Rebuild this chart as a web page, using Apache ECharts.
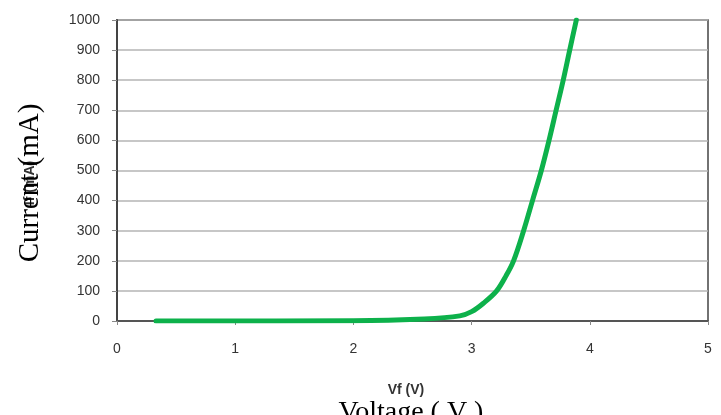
<!DOCTYPE html>
<html><head><meta charset="utf-8">
<script src="https://cdn.jsdelivr.net/npm/echarts@6/dist/echarts.min.js"></script>
<style>html,body{margin:0;padding:0;background:#fff}#c{width:721px;height:415px}</style>
</head><body><div id="c"></div>
<script>
var voltage = [0.33, 2.0, 2.6, 2.9, 3.0, 3.1, 3.212, 3.291, 3.355, 3.44, 3.515, 3.59, 3.655, 3.715, 3.775, 3.83, 3.886];
var current = [0, 1, 7, 17, 31, 59, 100, 150, 200, 300, 400, 500, 600, 700, 800, 900, 1000];
var xTicks = [0, 1, 2, 3, 4, 5];
var yTicks = [0, 100, 200, 300, 400, 500, 600, 700, 800, 900, 1000];
var xNameInner = 'Vf (V)', xNameOuter = 'Voltage ( V )';
var yNameInner = 'If (mA)', yNameOuter = 'Current (mA)';

var chart = echarts.init(document.getElementById('c'), null, {renderer: 'canvas'});
var pts = voltage.map(function (v, i) { return [v, current[i]]; });
chart.setOption({
  animation: false,
  backgroundColor: '#fff',
  grid: {left: 117, right: 13, top: 20, bottom: 94, show: true, borderColor: '#444', borderWidth: 1.5, backgroundColor: 'transparent'},
  xAxis: {
    type: 'value', min: xTicks[0], max: xTicks[xTicks.length - 1], interval: 1,
    axisLine: {show: true, lineStyle: {color: '#555', width: 2}},
    axisTick: {show: true, length: 4, lineStyle: {color: '#888'}},
    axisLabel: {margin: 21, color: '#333', fontFamily: 'Liberation Sans, Arial', fontSize: 14, formatter: function (v) { return String(v); }},
    splitLine: {show: false}
  },
  yAxis: {
    type: 'value', min: yTicks[0], max: yTicks[yTicks.length - 1], interval: 100,
    axisLine: {show: true, lineStyle: {color: '#444', width: 2}},
    axisTick: {show: true, length: 5, lineStyle: {color: '#888'}},
    axisLabel: {margin: 17, color: '#333', fontFamily: 'Liberation Sans, Arial', fontSize: 14, formatter: function (v) { return String(v); }},
    splitLine: {show: true, lineStyle: {color: '#b4b4b4', width: 1.5}}
  },
  series: [{
    type: 'line', data: pts, smooth: 0.35, showSymbol: false,
    lineStyle: {color: '#0db14b', width: 5, cap: 'round', join: 'round'}, z: 3
  }],
  graphic: [
    {type: 'text', x: 406, y: 390, style: {text: xNameInner, font: 'bold 14px "Liberation Sans", Arial', fill: '#333', textAlign: 'center', textVerticalAlign: 'middle'}},
    {type: 'text', x: 411, y: 413, style: {text: xNameOuter, font: '28px "Liberation Serif", "Times New Roman"', fill: '#000', textAlign: 'center', textVerticalAlign: 'middle'}},
    {type: 'text', x: 30, y: 183, rotation: Math.PI / 2, style: {text: yNameInner, font: 'bold 14px "Liberation Sans", Arial', fill: '#333', textAlign: 'center', textVerticalAlign: 'middle'}},
    {type: 'text', x: 30, y: 183, rotation: Math.PI / 2, style: {text: yNameOuter, font: '29px "Liberation Serif", "Times New Roman"', fill: '#000', textAlign: 'center', textVerticalAlign: 'middle'}}
  ]
});
</script></body></html>
